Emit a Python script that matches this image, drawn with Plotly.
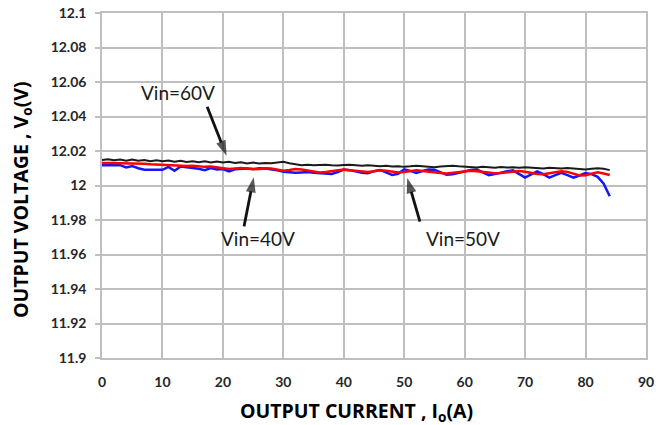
import plotly.graph_objects as go

current = list(range(0, 85))

v_60 = [12.0148, 12.0152, 12.0146, 12.0151, 12.0144, 12.0150, 12.0143, 12.0148, 12.0141, 12.0146,
        12.0140, 12.0145, 12.0138, 12.0143, 12.0137, 12.0141, 12.0135, 12.0140, 12.0134, 12.0139,
        12.0133, 12.0137, 12.0131, 12.0135, 12.0128, 12.0133, 12.0127, 12.0131, 12.0129, 12.0134,
        12.0137, 12.0129, 12.0122, 12.0118, 12.0120, 12.0117, 12.0119, 12.0121, 12.0118, 12.0116,
        12.0119, 12.0121, 12.0118, 12.0115, 12.0117, 12.0113, 12.0111, 12.0114, 12.0110, 12.0112,
        12.0108, 12.0111, 12.0115, 12.0112, 12.0109, 12.0106, 12.0110, 12.0113, 12.0115, 12.0111,
        12.0109, 12.0106, 12.0104, 12.0108, 12.0106, 12.0103, 12.0107, 12.0104, 12.0106, 12.0103,
        12.0106, 12.0104, 12.0101, 12.0099, 12.0103, 12.0101, 12.0098, 12.0101, 12.0097, 12.0095,
        12.0093, 12.0097, 12.0100, 12.0097, 12.0089]

v_50 = [12.0131, 12.0132, 12.0130, 12.0129, 12.0129, 12.0126, 12.0125, 12.0126, 12.0123, 12.0121,
        12.0120, 12.0118, 12.0119, 12.0116, 12.0113, 12.0115, 12.0111, 12.0108, 12.0110, 12.0106,
        12.0103, 12.0096, 12.0099, 12.0102, 12.0098, 12.0094, 12.0096, 12.0100, 12.0098, 12.0090,
        12.0085, 12.0090, 12.0096, 12.0093, 12.0086, 12.0079, 12.0076, 12.0078, 12.0084, 12.0090,
        12.0093, 12.0089, 12.0086, 12.0082, 12.0078, 12.0083, 12.0089, 12.0086, 12.0079, 12.0075,
        12.0078, 12.0085, 12.0089, 12.0084, 12.0079, 12.0076, 12.0073, 12.0070, 12.0074, 12.0080,
        12.0084, 12.0086, 12.0082, 12.0078, 12.0074, 12.0071, 12.0072, 12.0077, 12.0081, 12.0084,
        12.0080, 12.0073, 12.0067, 12.0065, 12.0071, 12.0078, 12.0083, 12.0079, 12.0068, 12.0058,
        12.0060, 12.0069, 12.0076, 12.0070, 12.0061]

v_40 = [12.0118, 12.0117, 12.0119, 12.0118, 12.0105, 12.0113, 12.0100, 12.0091, 12.0091, 12.0092,
        12.0091, 12.0108, 12.0085, 12.0110, 12.0104, 12.0101, 12.0097, 12.0089, 12.0101, 12.0093,
        12.0095, 12.0082, 12.0094, 12.0097, 12.0099, 12.0095, 12.0100, 12.0098, 12.0094, 12.0088,
        12.0080, 12.0076, 12.0074, 12.0076, 12.0078, 12.0074, 12.0072, 12.0068, 12.0067, 12.0078,
        12.0092, 12.0089, 12.0080, 12.0074, 12.0071, 12.0083, 12.0090, 12.0074, 12.0061, 12.0068,
        12.0094, 12.0085, 12.0073, 12.0084, 12.0093, 12.0092, 12.0078, 12.0062, 12.0065, 12.0073,
        12.0084, 12.0090, 12.0092, 12.0076, 12.0060, 12.0066, 12.0075, 12.0082, 12.0088, 12.0065,
        12.0046, 12.0064, 12.0082, 12.0066, 12.0046, 12.0060, 12.0073, 12.0060, 12.0046, 12.0058,
        12.0072, 12.0066, 12.0050, 12.0010, 11.9938]

x_ticks = [0, 10, 20, 30, 40, 50, 60, 70, 80, 90]
y_ticks = [11.9, 11.92, 11.94, 11.96, 11.98, 12.0, 12.02, 12.04, 12.06, 12.08, 12.1]
y_tick_text = ["11.9", "11.92", "11.94", "11.96", "11.98", "12", "12.02", "12.04", "12.06", "12.08", "12.1"]

labels = ["Vin=60V", "Vin=40V", "Vin=50V"]
label_pos = [(12.6, 12.0540), (25.8, 11.9690), (59.7, 11.9690)]
arrow_tail = [(17.4, 12.0457), (23.5, 11.9763), (52.6, 11.9790)]
arrow_tip = [(20.6, 12.0172), (25.1, 12.0048), (50.5, 12.0044)]

x_title = "OUTPUT CURRENT , I<sub>o</sub>(A)"
y_title = "OUTPUT VOLTAGE , V<sub>o</sub>(V)"

fig = go.Figure()
fig.add_trace(go.Scatter(x=current, y=v_40, mode="lines", line=dict(color="#1414ff", width=2.5), showlegend=False))
fig.add_trace(go.Scatter(x=current, y=v_50, mode="lines", line=dict(color="#ff0000", width=2.5), showlegend=False))
fig.add_trace(go.Scatter(x=current, y=v_60, mode="lines", line=dict(color="#1a1a1a", width=2), showlegend=False))

for (tx, ty), (hx, hy) in zip(arrow_tail, arrow_tip):
    fig.add_trace(go.Scatter(x=[tx, hx], y=[ty, hy], mode="lines+markers", showlegend=False, hoverinfo="skip",
                             line=dict(color="#111111", width=2.8),
                             marker=dict(symbol="arrow", size=[0, 16], angleref="previous", color="#111111",
                                         line=dict(width=0))))

grid = "#bfbfbf"
tickfont = dict(family="Lato", size=14, color="#262626", weight="bold")
titlefont = dict(family="Open Sans", size=19.5, color="black", weight="bold")

fig.update_xaxes(range=[0, 90], tickvals=x_ticks, showgrid=True, gridcolor=grid, gridwidth=1.5,
                 showline=True, linecolor=grid, linewidth=1.5, mirror=True, zeroline=False,
                 ticks="outside", ticklen=10, tickcolor="rgba(0,0,0,0)", tickfont=tickfont,
                 automargin=False)
fig.update_yaxes(range=[11.9, 12.1], tickvals=y_ticks, ticktext=y_tick_text, showgrid=True, gridcolor=grid,
                 gridwidth=1.5, showline=True, linecolor=grid, linewidth=1.5, mirror=True, zeroline=False,
                 ticks="outside", ticklen=5, tickcolor=grid, tickwidth=1.5, tickfont=tickfont,
                 ticklabelstandoff=6, automargin=False)

fig.add_annotation(x=0.467, y=-0.154, xref="paper", yref="paper", xanchor="center", yanchor="middle",
                   text=x_title, showarrow=False, font=titlefont)
fig.add_annotation(x=-0.147, y=0.458, xref="paper", yref="paper", xanchor="center", yanchor="middle",
                   text=y_title, showarrow=False, textangle=-90, font=titlefont)

for (lx, ly), txt in zip(label_pos, labels):
    fig.add_annotation(x=lx, y=ly, text=txt, showarrow=False, xref="x", yref="y",
                       font=dict(family="Lato", size=19, color="#1a1a1a"))

fig.update_layout(width=664, height=425, margin=dict(l=102, r=18, t=13, b=67),
                  plot_bgcolor="white", paper_bgcolor="white")

fig.write_html("out.html", config={"displayModeBar": False},
               post_script="document.body.style.margin='0';")
